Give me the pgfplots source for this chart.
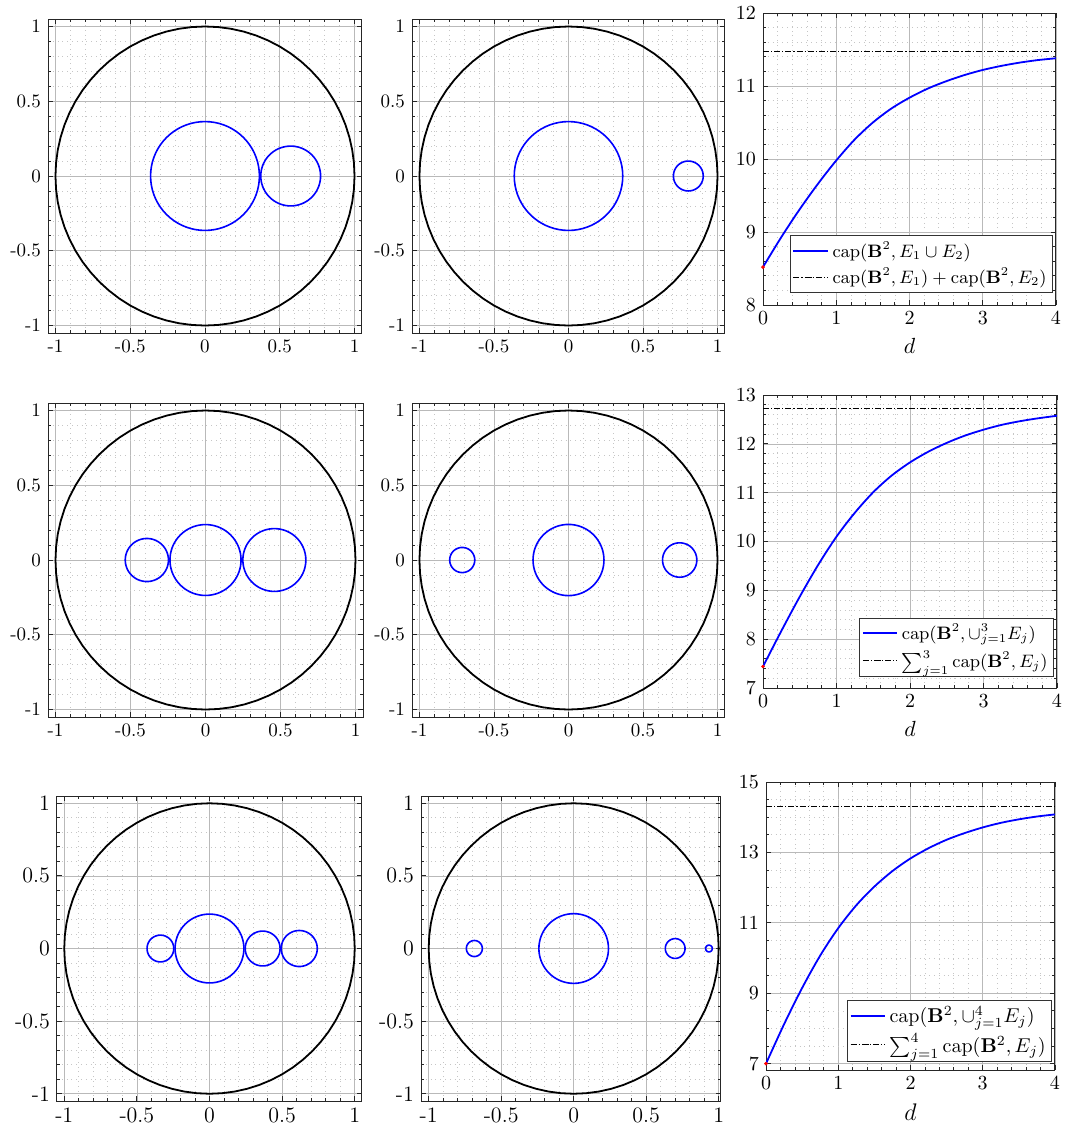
\documentclass[border=0pt]{standalone}
\usepackage{pgfplots}
\usepackage{pgfplotstable}
\pgfplotsset{compat=1.18}

% unit circle, 5 degree steps; each disk is this table shifted and scaled
\pgfplotstableread{
c s
1.0000 0.0000
0.9962 0.0872
0.9848 0.1736
0.9659 0.2588
0.9397 0.3420
0.9063 0.4226
0.8660 0.5000
0.8192 0.5736
0.7660 0.6428
0.7071 0.7071
0.6428 0.7660
0.5736 0.8192
0.5000 0.8660
0.4226 0.9063
0.3420 0.9397
0.2588 0.9659
0.1736 0.9848
0.0872 0.9962
0.0000 1.0000
-0.0872 0.9962
-0.1736 0.9848
-0.2588 0.9659
-0.3420 0.9397
-0.4226 0.9063
-0.5000 0.8660
-0.5736 0.8192
-0.6428 0.7660
-0.7071 0.7071
-0.7660 0.6428
-0.8192 0.5736
-0.8660 0.5000
-0.9063 0.4226
-0.9397 0.3420
-0.9659 0.2588
-0.9848 0.1736
-0.9962 0.0872
-1.0000 0.0000
-0.9962 -0.0872
-0.9848 -0.1736
-0.9659 -0.2588
-0.9397 -0.3420
-0.9063 -0.4226
-0.8660 -0.5000
-0.8192 -0.5736
-0.7660 -0.6428
-0.7071 -0.7071
-0.6428 -0.7660
-0.5736 -0.8192
-0.5000 -0.8660
-0.4226 -0.9063
-0.3420 -0.9397
-0.2588 -0.9659
-0.1736 -0.9848
-0.0872 -0.9962
0.0000 -1.0000
0.0872 -0.9962
0.1736 -0.9848
0.2588 -0.9659
0.3420 -0.9397
0.4226 -0.9063
0.5000 -0.8660
0.5736 -0.8192
0.6428 -0.7660
0.7071 -0.7071
0.7660 -0.6428
0.8192 -0.5736
0.8660 -0.5000
0.9063 -0.4226
0.9397 -0.3420
0.9659 -0.2588
0.9848 -0.1736
0.9962 -0.0872
1.0000 0.0000
}\unitcircle

% \ring{centre x}{radius}{style}
\newcommand{\ring}[3]{\addplot[#3] table[x expr={#1+#2*\thisrow{c}}, y expr={#2*\thisrow{s}}]{\unitcircle};}

\pgfplotsset{
  matlab/.style={scale only axis, grid=both, tick align=inside,
    major grid style={gray!55, line width=0.35pt},
    minor grid style={gray!45, dotted, line width=0.35pt},
    axis line style={black!85, line width=0.5pt},
    tick style={black!85, line width=0.4pt},
    major tick length=2.5pt, minor tick length=1.5pt},
  disk/.style={matlab, xmin=-1.05, xmax=1.05, ymin=-1.05, ymax=1.05,
    xtick={-1,-0.5,0,0.5,1}, ytick={-1,-0.5,0,0.5,1},
    xticklabels={-1,-0.5,0,0.5,1}, yticklabels={-1,-0.5,0,0.5,1},
    minor tick num=4,
    tick label style={font=\fontsize{9.5}{11}\selectfont}},
  capplot/.style={matlab, xmin=0, xmax=4, xtick={0,1,2,3,4},
    minor x tick num=4, xlabel={$d$},
    tick label style={font=\fontsize{10.3}{12}\selectfont},
    label style={font=\fontsize{10.8}{12}\selectfont},
    legend cell align=left,
    legend style={anchor=south east, draw=black!80, fill=white,
      inner sep=1pt, font=\fontsize{9}{10.5}\selectfont, row sep=0pt}},
  outer/.style={black, line width=0.9pt},
  inner/.style={blue, line width=0.8pt},
  capline/.style={blue, line width=0.9pt, smooth},
  sumline/.style={black, line width=0.6pt, dash pattern=on 3pt off 1pt on 0.6pt off 1pt},
}

\begin{document}
\begin{tikzpicture}
\useasboundingbox (0,0) rectangle (533.5pt,-568.5pt);

% ---------- row 1 ----------
\begin{axis}[disk, at={(24pt,-166.5pt)}, anchor=south west, width=157pt, height=157pt]
\ring{0}{1}{outer}
\ring{0}{0.364}{inner}
\ring{0.573}{0.2}{inner}
\end{axis}

\begin{axis}[disk, at={(206pt,-166.5pt)}, anchor=south west, width=156.5pt, height=157pt]
\ring{0}{1}{outer}
\ring{0}{0.364}{inner}
\ring{0.804}{0.1}{inner}
\end{axis}

\begin{axis}[capplot, at={(381.5pt,-152.5pt)}, anchor=south west, width=146.5pt, height=146pt,
  ymin=8, ymax=12, ytick={8,9,10,11,12}, minor y tick num=4,
  legend style={at={(0.99,0.041)}}]
\addplot[capline] coordinates {(0,8.52)(0.25,8.93)(0.5,9.31)(0.75,9.66)(1,9.98)(1.25,10.265)(1.5,10.50)(1.75,10.69)(2,10.84)(2.25,10.965)(2.5,11.065)(2.75,11.15)(3,11.22)(3.25,11.275)(3.5,11.32)(3.75,11.355)(4,11.38)};
\addlegendentry{$\mathrm{cap}(\mathbf{B}^2,E_1\cup E_2)$}
\addplot[sumline] coordinates {(0,11.475)(4,11.475)};
\addlegendentry{$\mathrm{cap}(\mathbf{B}^2,E_1)+\mathrm{cap}(\mathbf{B}^2,E_2)$}
\addplot[only marks, mark=*, mark size=0.7pt, red, forget plot] coordinates {(0,8.52)};
\end{axis}

% ---------- row 2 ----------
\begin{axis}[disk, at={(24pt,-358.5pt)}, anchor=south west, width=157.5pt, height=157pt]
\ring{0}{1}{outer}
\ring{-0.391}{0.144}{inner}
\ring{0}{0.237}{inner}
\ring{0.459}{0.21}{inner}
\end{axis}

\begin{axis}[disk, at={(206pt,-358.5pt)}, anchor=south west, width=156.5pt, height=157pt]
\ring{0}{1}{outer}
\ring{-0.713}{0.084}{inner}
\ring{0}{0.238}{inner}
\ring{0.746}{0.115}{inner}
\end{axis}

\begin{axis}[capplot, at={(381.5pt,-344pt)}, anchor=south west, width=147pt, height=146.5pt,
  ymin=7, ymax=13, ytick={7,8,9,10,11,12,13}, minor y tick num=4,
  legend style={at={(0.99,0.0375)}}]
\addplot[capline] coordinates {(0,7.44)(0.25,8.17)(0.5,8.87)(0.75,9.52)(1,10.10)(1.25,10.59)(1.5,11.01)(1.75,11.35)(2,11.62)(2.25,11.84)(2.5,12.02)(2.75,12.17)(3,12.29)(3.25,12.39)(3.5,12.465)(3.75,12.525)(4,12.575)};
\addlegendentry{$\mathrm{cap}(\mathbf{B}^2,\cup_{j=1}^{3}E_j)$}
\addplot[sumline] coordinates {(0,12.73)(4,12.73)};
\addlegendentry{$\sum_{j=1}^{3}\mathrm{cap}(\mathbf{B}^2,E_j)$}
\addplot[only marks, mark=*, mark size=0.7pt, red, forget plot] coordinates {(0,7.44)};
\end{axis}

% ---------- row 3 ----------
\begin{axis}[disk, at={(28.5pt,-550.5pt)}, anchor=south west, width=152.5pt, height=152.5pt,
  tick label style={font=\fontsize{11}{12}\selectfont}]
\ring{0}{1}{outer}
\ring{-0.338}{0.092}{inner}
\ring{0}{0.237}{inner}
\ring{0.366}{0.12}{inner}
\ring{0.618}{0.124}{inner}
\end{axis}

\begin{axis}[disk, at={(210.5pt,-550.5pt)}, anchor=south west, width=150pt, height=152.5pt,
  xmin=-1.053, xmax=1.016,
  tick label style={font=\fontsize{11}{12}\selectfont}]
\ring{0}{1}{outer}
\ring{-0.685}{0.055}{inner}
\ring{0}{0.24}{inner}
\ring{0.70}{0.068}{inner}
\ring{0.933}{0.023}{inner}
\end{axis}

\begin{axis}[capplot, at={(383pt,-535pt)}, anchor=south west, width=144.5pt, height=144pt,
  ymin=6.82, ymax=15, ytick={7,9,11,13,15}, minor y tick num=3,
  label style={font=\fontsize{12}{13}\selectfont},
  legend style={at={(0.99,0.028)}, font=\fontsize{9.8}{11.5}\selectfont}]
\addplot[capline] coordinates {(0,7.00)(0.25,8.12)(0.5,9.15)(0.75,10.07)(1,10.85)(1.25,11.50)(1.5,12.03)(1.75,12.47)(2,12.83)(2.25,13.12)(2.5,13.36)(2.75,13.55)(3,13.71)(3.25,13.84)(3.5,13.94)(3.75,14.02)(4,14.08)};
\addlegendentry{$\mathrm{cap}(\mathbf{B}^2,\cup_{j=1}^{4}E_j)$}
\addplot[sumline] coordinates {(0,14.31)(4,14.31)};
\addlegendentry{$\sum_{j=1}^{4}\mathrm{cap}(\mathbf{B}^2,E_j)$}
\addplot[only marks, mark=*, mark size=0.7pt, red, forget plot] coordinates {(0,7.00)};
\end{axis}
\end{tikzpicture}
\end{document}
